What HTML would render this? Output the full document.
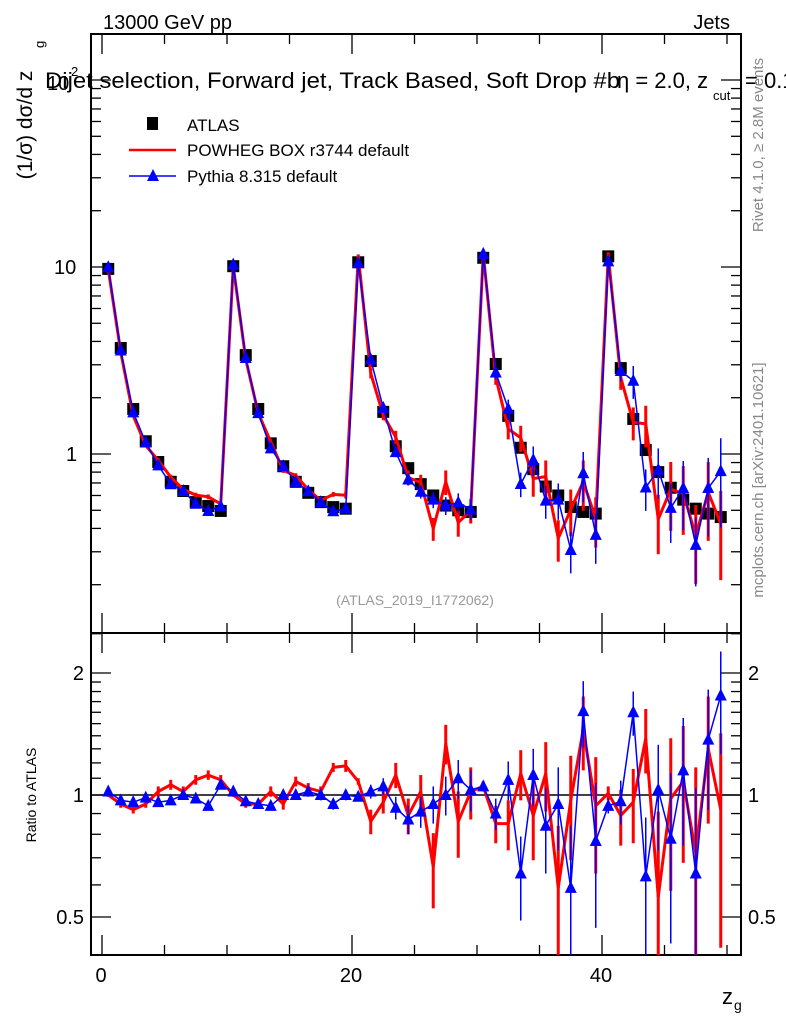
<!DOCTYPE html>
<html><head><meta charset="utf-8">
<style>
body{margin:0;background:#fff;}
svg{display:block;font-family:"Liberation Sans",sans-serif;}
</style></head>
<body>
<svg id="c" width="786" height="1024" viewBox="0 0 786 1024"></svg>
<script>
const bins=[0,1,2,3,4,5,6,7,8,9,10,11,12,13,14,15,16,17,18,19,20,21,22,23,24,25,26,27,28,29,30,31,32,33,34,35,36,37,38,39,40,41,42,43,44,45,46,47,48,49];
const atlas=[9.77,3.69,1.74,1.17,0.906,0.71,0.634,0.553,0.527,0.496,10.1,3.38,1.74,1.14,0.86,0.71,0.62,0.553,0.52,0.51,10.6,3.14,1.68,1.1,0.84,0.69,0.6,0.53,0.5,0.49,11.2,3.03,1.6,1.08,0.83,0.67,0.6,0.52,0.49,0.48,11.4,2.88,1.54,1.05,0.8,0.66,0.57,0.51,0.48,0.46];
const powhegRatio=[1.0,0.95,0.92,0.95,1.02,1.06,1.02,1.09,1.12,1.09,1.0,0.95,0.95,1.02,0.95,1.08,1.04,1.02,1.17,1.18,1.08,0.86,0.96,1.12,0.89,1.02,0.665,1.34,0.86,1.02,1.05,0.85,0.85,1.13,0.89,1.13,0.59,0.97,1.45,0.94,1.01,0.89,0.96,1.38,0.56,0.98,1.08,0.72,1.30,0.92];
const powhegErr=[0.01,0.02,0.02,0.02,0.03,0.03,0.03,0.03,0.03,0.03,0.01,0.02,0.02,0.03,0.03,0.03,0.03,0.03,0.03,0.04,0.02,0.06,0.06,0.08,0.09,0.1,0.14,0.15,0.16,0.15,0.03,0.09,0.12,0.16,0.2,0.22,0.25,0.28,0.3,0.3,0.04,0.14,0.2,0.25,0.35,0.4,0.4,0.45,0.45,0.5];
const pythiaRatio=[1.02,0.97,0.96,0.985,0.96,0.97,1.0,0.98,0.94,1.06,1.02,0.965,0.95,0.94,1.0,1.0,1.02,1.0,0.95,1.0,0.99,1.02,1.05,0.93,0.87,0.91,0.95,1.0,1.1,1.03,1.05,0.9,1.09,0.64,1.12,0.84,0.95,0.59,1.61,0.77,0.94,0.965,1.6,0.63,1.03,0.78,1.15,0.64,1.37,1.76];
const pythiaErr=[0.01,0.02,0.02,0.02,0.02,0.02,0.02,0.02,0.02,0.02,0.01,0.02,0.02,0.02,0.02,0.02,0.03,0.03,0.03,0.03,0.02,0.04,0.05,0.06,0.07,0.08,0.1,0.11,0.12,0.12,0.03,0.08,0.12,0.15,0.18,0.2,0.22,0.25,0.3,0.3,0.04,0.12,0.2,0.25,0.3,0.35,0.4,0.4,0.45,0.5];
const xTicks=[0,20,40];
const mainTicks=[1,10,100];
const ratioTicks=[0.5,1,2];

const NS="http://www.w3.org/2000/svg";
const svg=document.getElementById('c');
function mk(tag,attrs,parent){const e=document.createElementNS(NS,tag);for(const k in attrs)e.setAttribute(k,attrs[k]);(parent||svg).appendChild(e);return e;}
const L=91,R=741,T=34,MB=633,RB=955;
const X=z=>102+12.5*z;
const Y=v=>454-187*Math.log10(v);
const RY=r=>795-122*Math.log2(r);
const clampR=y=>Math.max(MB,Math.min(RB,y));
const clampM=y=>Math.max(T,Math.min(MB,y));

let f=mk('rect',{x:L,y:T,width:R-L,height:MB-T,fill:'none',stroke:'#000','stroke-width':2});

f=mk('rect',{x:L,y:MB,width:R-L,height:RB-MB,fill:'none',stroke:'#000','stroke-width':2});


const xt=mk('g',{stroke:'#000','stroke-width':1.3});

for(let z=0;z<=50;z+=5){const x=X(z);const len=(z%20===0)?20:10;
 mk('line',{x1:x,y1:T,x2:x,y2:T+len},xt);mk('line',{x1:x,y1:MB,x2:x,y2:MB-len},xt);
 mk('line',{x1:x,y1:MB,x2:x,y2:MB+len},xt);mk('line',{x1:x,y1:RB,x2:x,y2:RB-len},xt);}
xTicks.forEach(z=>{const t=mk('text',{x:X(z)-1,y:982,'font-size':20,'text-anchor':'middle'});t.textContent=z;
 });

const yt=mk('g',{stroke:'#000','stroke-width':1.3});

for(let d=-1;d<=2;d++)for(let m=1;m<=9;m++){const v=m*Math.pow(10,d);const y=Y(v);if(y<T||y>MB)continue;
 const len=m===1?20:10;mk('line',{x1:L,y1:y,x2:L+len,y2:y},yt);mk('line',{x1:R,y1:y,x2:R-len,y2:y},yt);}
[[1,'1',66],[10,'10',54]].forEach(a=>{const t=mk('text',{x:a[2],y:Y(a[0])+7,'font-size':20});t.textContent=a[1];
 });
let t=mk('text',{x:47,y:Y(100)+10,'font-size':20});t.textContent='10';

t=mk('text',{x:71,y:Y(100)-4,'font-size':13});t.textContent='2';


const rt=mk('g',{stroke:'#000','stroke-width':1.3});

[0.4,0.5,0.6,0.7,0.8,0.9,1,1.1,1.2,1.3,1.4,1.5,1.6,1.7,1.8,1.9,2,2.5].forEach(v=>{const y=RY(v);if(y<MB||y>RB)return;
 const len=(v===0.5||v===1||v===2)?20:10;mk('line',{x1:L,y1:y,x2:L+len,y2:y},rt);mk('line',{x1:R,y1:y,x2:R-len,y2:y},rt);});
ratioTicks.forEach(v=>{const s=String(v);
 let a=mk('text',{x:84,y:RY(v)+7,'font-size':20,'text-anchor':'end'});a.textContent=s;
 
 a=mk('text',{x:748,y:RY(v)+7,'font-size':20});a.textContent=s;
 });
let ln=mk('line',{x1:L,y1:RY(1),x2:R,y2:RY(1),stroke:'#000','stroke-width':1.5});


function series(vals,errs,color,w,name,ratio,marker){
 const g=mk('g',{});
 const ys=bins.map((b,i)=>ratio?RY(vals[i]):Y(vals[i]));
 const cl=ratio?clampR:clampM;
 bins.forEach((b,i)=>{const x=X(b+0.5);const v=vals[i];
  const lo=ratio?RY(Math.max(v-errs[i],0.01)):Y(Math.max(v*(1-errs[i]),1e-3));
  const hi=ratio?RY(v+errs[i]):Y(v*(1+errs[i]));
  const eb=mk('line',{x1:x,y1:cl(lo),x2:x,y2:cl(hi),stroke:color,'stroke-width':w},g);
  });
 const pts=bins.map((b,i)=>X(b+0.5)+','+cl(ys[i])).join(' ');
 const pl=mk('polyline',{points:pts,fill:'none',stroke:color,'stroke-width':w},g);
 
 if(marker){bins.forEach((b,i)=>{const x=X(b+0.5),y=ys[i];if(ratio&&(y<MB-2||y>RB))return;
  const p=mk('polygon',{points:`${x},${y-7} ${x-6},${y+5} ${x+6},${y+5}`,fill:color},g);
  });}
}
const ag=mk('g',{});
bins.forEach((b,i)=>{const r=mk('rect',{x:X(b+0.5)-6,y:Y(atlas[i])-6,width:12,height:12,fill:'#000'},ag);
 });
const powheg=atlas.map((a,i)=>a*powhegRatio[i]);
const pythia=atlas.map((a,i)=>a*pythiaRatio[i]);
series(powheg,powhegErr,'#f00',3,'powheg-main',false,false);
series(pythia,pythiaErr,'#00f',1.5,'pythia-main',false,true);
series(powhegRatio,powhegErr,'#f00',3,'powheg-ratio',true,false);
series(pythiaRatio,pythiaErr,'#00f',1.5,'pythia-ratio',true,true);

const lg=mk('g',{});
let e=mk('rect',{x:147,y:117,width:11,height:13,fill:'#000'},lg);
e=mk('text',{x:187,y:131,'font-size':17},lg);e.textContent='ATLAS';
e=mk('line',{x1:129,y1:150,x2:176,y2:150,stroke:'#f00','stroke-width':2.5},lg);
e=mk('text',{x:187,y:156,'font-size':17},lg);e.textContent='POWHEG BOX r3744 default';
e=mk('line',{x1:129,y1:176,x2:176,y2:176,stroke:'#00f','stroke-width':1.5},lg);
e=mk('polygon',{points:'153,169 147,181 159,181',fill:'#00f'},lg);
e=mk('text',{x:187,y:182,'font-size':17},lg);e.textContent='Pythia 8.315 default';

function txt(x,y,s,size,name,extra){const a=mk('text',Object.assign({x:x,y:y,'font-size':size},extra||{}));a.textContent=s;
 return a;}
txt(103,29,'13000 GeV pp',20,'energy-label');
txt(730,29,'Jets',20,'process-label',{'text-anchor':'end'});
txt(45,88,'Dijet selection, Forward jet, Track Based, Soft Drop #b',22,'plot-title',{textLength:575,lengthAdjust:'spacingAndGlyphs'});
txt(617,88,'η = 2.0, z',22,'plot-title-tail');
txt(713,100,'cut',13,'plot-title-sub');
txt(745,88,'= 0.1',22,'plot-title-end');
txt(415,605,'(ATLAS_2019_I1772062)',14,'analysis-id',{'text-anchor':'middle',fill:'#999'});
txt(32,125,'(1/σ) dσ/d z',21,'y-axis-title',{transform:'rotate(-90 32 125)','text-anchor':'middle'});
txt(44,48,'g',13,'y-axis-title-sub',{transform:'rotate(-90 44 48)'});
txt(36,795,'Ratio to ATLAS',14,'ratio-axis-title',{transform:'rotate(-90 36 795)','text-anchor':'middle'});
txt(722,1004,'z',22,'x-axis-title');
txt(734,1010,'g',14,'x-axis-title-sub');
txt(763,145,'Rivet 4.1.0, ≥ 2.8M events',15,'rivet-label',{transform:'rotate(-90 763 145)','text-anchor':'middle',fill:'#888'});
txt(763,480,'mcplots.cern.ch [arXiv:2401.10621]',15,'mcplots-label',{transform:'rotate(-90 763 480)','text-anchor':'middle',fill:'#888'});
</script>
</body></html>
